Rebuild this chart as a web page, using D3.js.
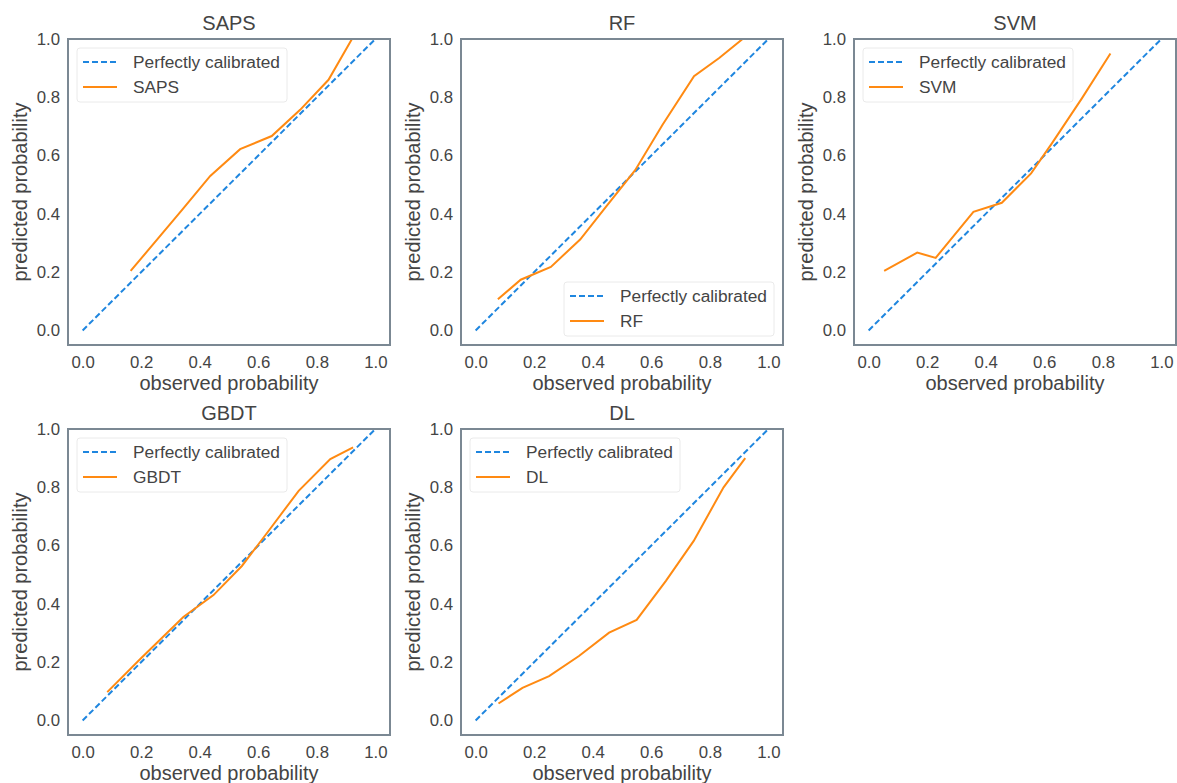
<!DOCTYPE html>
<html>
<head>
<meta charset="utf-8">
<title>Calibration curves</title>
<style>
  body { margin: 0; background: #fff; }
  svg text { font-family: "Liberation Sans", Arial, sans-serif; fill: #444; }
</style>
<script src="https://d3js.org/d3.v7.min.js"></script>
</head>
<body>
<svg id="fig" width="1177" height="783"></svg>
<script>
// model names, in panel order
var models = ["SAPS", "RF", "SVM", "GBDT", "DL"];

// observed / predicted probability
var sapsX = [0.164, 0.339, 0.436, 0.538, 0.646, 0.743, 0.84, 0.92];
var sapsY = [0.204, 0.413, 0.53, 0.622, 0.667, 0.757, 0.86, 1.0];

var rfX = [0.076, 0.154, 0.257, 0.357, 0.445, 0.545, 0.638, 0.746, 0.832, 0.912];
var rfY = [0.107, 0.174, 0.218, 0.312, 0.424, 0.55, 0.705, 0.872, 0.935, 1.0];

var svmX = [0.053, 0.166, 0.229, 0.358, 0.455, 0.555, 0.626, 0.729, 0.826];
var svmY = [0.204, 0.267, 0.249, 0.407, 0.438, 0.539, 0.642, 0.797, 0.95];

var gbdtX = [0.084, 0.196, 0.344, 0.447, 0.544, 0.635, 0.738, 0.846, 0.924];
var gbdtY = [0.097, 0.21, 0.355, 0.43, 0.53, 0.65, 0.788, 0.897, 0.937];

var dlX = [0.078, 0.16, 0.251, 0.353, 0.456, 0.55, 0.65, 0.745, 0.847, 0.921];
var dlY = [0.058, 0.112, 0.152, 0.221, 0.301, 0.345, 0.479, 0.616, 0.8, 0.9];

var ticks = [0, 0.2, 0.4, 0.6, 0.8, 1.0];
var diag = [0, 1];

var xs = [sapsX, rfX, svmX, gbdtX, dlX];
var ys = [sapsY, rfY, svmY, gbdtY, dlY];

// panel boxes (left, top) and where the legend sits
var panels = [
  {x: 68,  y: 39,  legend: "upper"},
  {x: 461, y: 39,  legend: "lower"},
  {x: 854, y: 39,  legend: "upper"},
  {x: 68,  y: 429, legend: "upper"},
  {x: 461, y: 429, legend: "upper"}
];
var W = 322, H = 306;
var blue = "#1f86df", orange = "#ff8a12", edge = "#7b8893";

var svg = d3.select("#fig");

panels.forEach(function (p, i) {
  var g = svg.append("g").attr("transform", "translate(" + p.x + "," + p.y + ")");
  var x = d3.scaleLinear().domain([-0.05, 1.05]).range([0, W]);
  var y = d3.scaleLinear().domain([-0.05, 1.0]).range([H, 0]);

  g.append("clipPath").attr("id", "clip" + i)
    .append("rect").attr("width", W).attr("height", H);

  // axes without tick marks, seaborn white style
  var xa = g.append("g").attr("transform", "translate(0," + H + ")")
    .call(d3.axisBottom(x).tickValues(ticks).tickSize(0).tickPadding(11).tickFormat(d3.format(".1f")));
  var ya = g.append("g")
    .call(d3.axisLeft(y).tickValues(ticks).tickSize(0).tickPadding(8).tickFormat(d3.format(".1f")));
  [xa, ya].forEach(function (a) {
    a.select(".domain").remove();
    a.selectAll("text").style("font-size", "16.8px").attr("fill", "#444")
      .style("font-family", "'Liberation Sans', Arial, sans-serif");
  });

  var line = d3.line().x(function (d) { return x(d[0]); }).y(function (d) { return y(d[1]); });

  var plot = g.append("g").attr("clip-path", "url(#clip" + i + ")");
  plot.append("path")
    .attr("d", line(diag.map(function (v) { return [v, v]; })))
    .attr("fill", "none").attr("stroke", blue).attr("stroke-width", 2)
    .attr("stroke-dasharray", "6,3");
  plot.append("path")
    .attr("d", line(xs[i].map(function (v, k) { return [v, ys[i][k]]; })))
    .attr("fill", "none").attr("stroke", orange).attr("stroke-width", 2);

  g.append("rect").attr("width", W).attr("height", H)
    .attr("fill", "none").attr("stroke", edge).attr("stroke-width", 2);

  g.append("text").attr("x", W / 2).attr("y", -9).attr("text-anchor", "middle")
    .style("font-size", "20px").text(models[i]);
  g.append("text").attr("x", W / 2).attr("y", H + 45).attr("text-anchor", "middle")
    .style("font-size", "20px").text("observed probability");
  g.append("text").attr("transform", "translate(-41," + (H / 2) + ") rotate(-90)")
    .attr("text-anchor", "middle").style("font-size", "20px").text("predicted probability");

  // legend
  var lw = 210, lh = 54;
  var lx = p.legend === "upper" ? 9 : W - 9 - lw;
  var ly = p.legend === "upper" ? 9 : H - 9 - lh;
  var lg = g.append("g").attr("transform", "translate(" + lx + "," + ly + ")");
  lg.append("rect").attr("width", lw).attr("height", lh).attr("rx", 3)
    .attr("fill", "#fff").attr("fill-opacity", 0.85).attr("stroke", "#eaeaea");
  var items = [
    {label: "Perfectly calibrated", color: blue, dash: "6,3"},
    {label: models[i], color: orange, dash: null}
  ];
  items.forEach(function (it, k) {
    var cy = 14 + k * 25;
    lg.append("line").attr("x1", 6).attr("x2", 40).attr("y1", cy).attr("y2", cy)
      .attr("stroke", it.color).attr("stroke-width", 2)
      .attr("stroke-dasharray", it.dash);
    lg.append("text").attr("x", 56).attr("y", cy).attr("dy", "0.35em")
      .style("font-size", "17.3px").text(it.label);
  });
});
</script>
</body>
</html>
